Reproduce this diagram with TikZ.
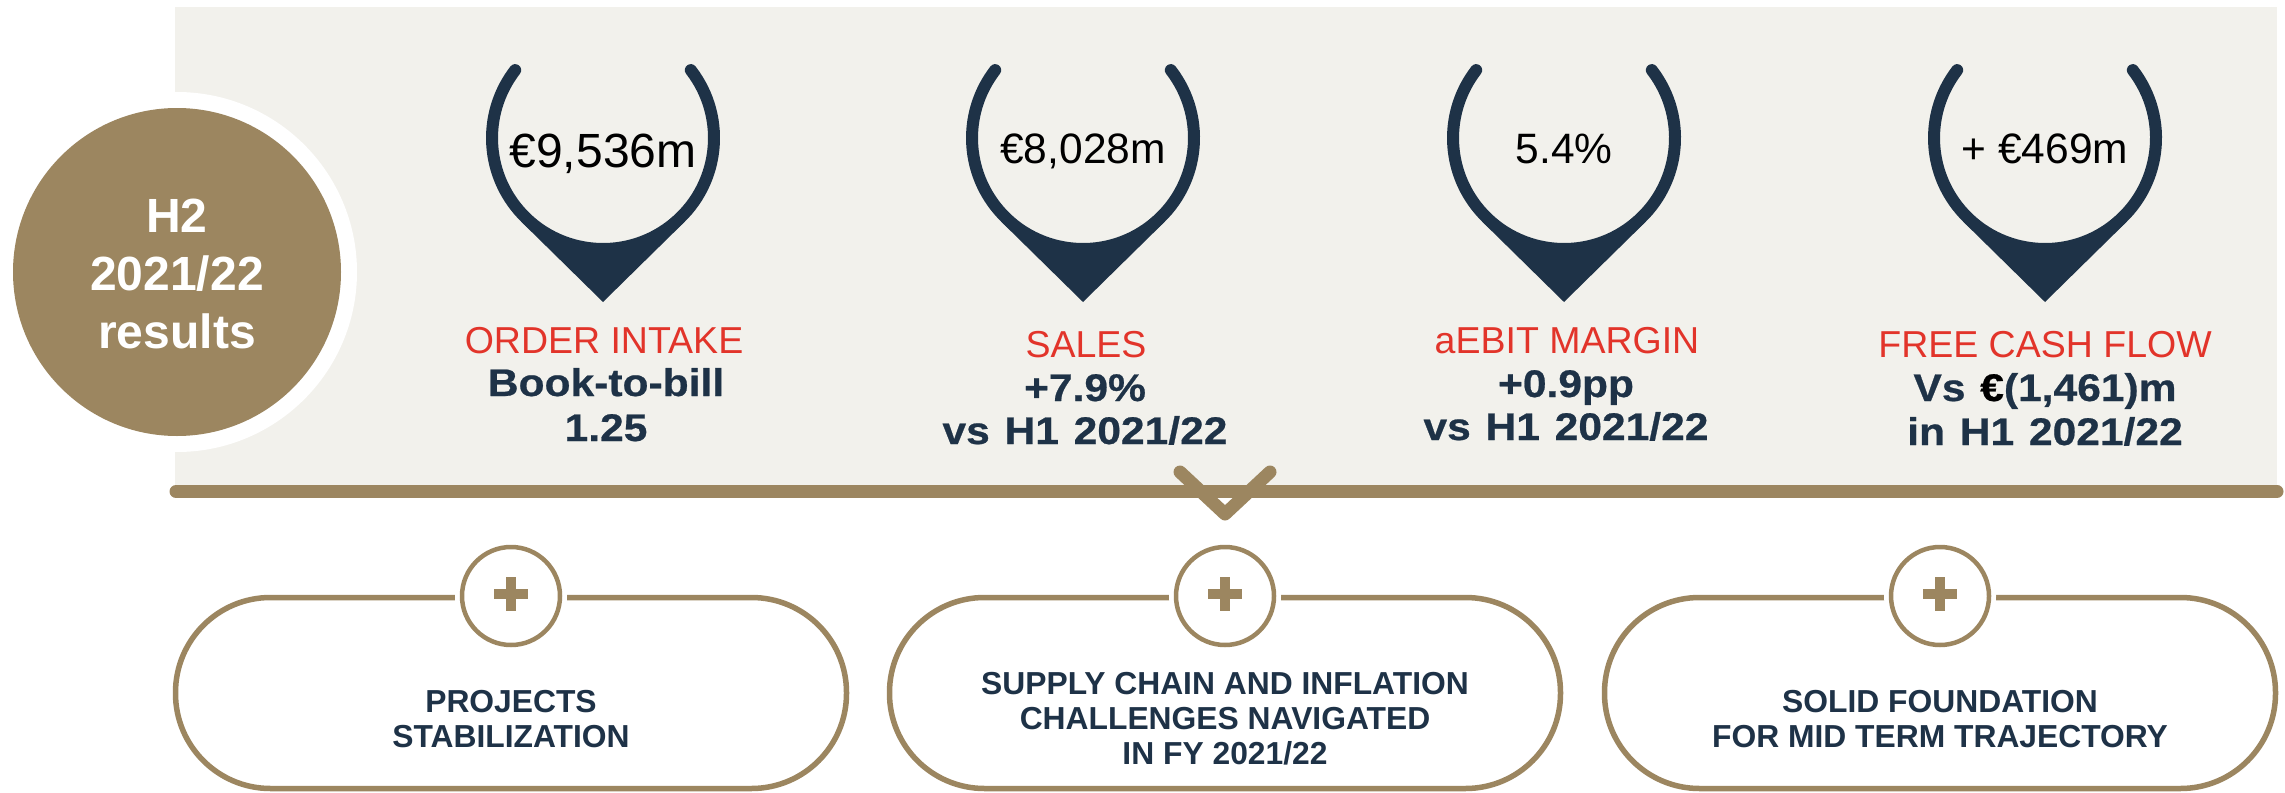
\documentclass[tikz,border=0pt]{standalone}
\usepackage{fontspec}
\setmainfont{Liberation Sans}
\newfontfamily\wideb[FakeStretch=1.105,FakeBold=0.6,WordSpace=1.25]{Liberation Sans Bold}
\definecolor{gold}{HTML}{9C8660}
\definecolor{panel}{HTML}{F2F1EC}
\definecolor{navy}{HTML}{1E3247}
\definecolor{redtxt}{HTML}{E2342A}
\newcommand{\fs}[2]{\fontsize{#1pt}{#2pt}\selectfont}
\tikzset{
  x=1pt,y=-1pt,
  valtext/.style={anchor=base,inner sep=0pt,text=black},
  headtext/.style={anchor=base,inner sep=0pt,text=redtxt,font=\fs{37.5}{40}},
  subtext/.style={anchor=base,inner sep=0pt,text=navy,font=\wideb\fs{38.5}{44}},
  pillbox/.style={draw=gold,line width=5.5pt,fill=white,minimum width=671pt,minimum height=191pt,rounded corners=95pt,inner sep=0pt},
  pilltext/.style={inner sep=0pt,align=center,text=navy,font=\bfseries\fs{31.8}{35}},
  ring/.style={circle,draw=gold,line width=4.5pt,fill=white,minimum size=98pt,inner sep=0pt},
  gapdisc/.style={circle,fill=white,minimum size=112pt,inner sep=0pt},
  htext/.style={anchor=base,inner sep=0pt,text=white,font=\bfseries\fs{48}{58}},
}
\newcommand{\pinshape}[1]{%
  \begin{scope}[shift={(#1,138)},y=1pt]
    \draw[navy,line width=12pt,line cap=round] (37.7:111) arc[start angle=37.7,end angle=-217.7,radius=111];
    \fill[navy] (0,-164) -- (-134.5:117) -- (-134.5:110) arc[start angle=-134.5,end angle=-45.5,radius=105] -- (-45.5:110) -- (-45.5:117) -- cycle;
  \end{scope}}
\newcommand{\plusmark}[1]{%
  \fill[gold] (#1-5,577) rectangle (#1+5,611);
  \fill[gold] (#1-17,589) rectangle (#1+17,599);}
\begin{document}
\begin{tikzpicture}
\useasboundingbox (0,0) rectangle (2285,792);
\fill[white] (0,0) rectangle (2285,792);
\fill[panel] (175,7) rectangle (2277,491);
\node[circle,fill=white,minimum size=360pt,inner sep=0pt] (halo) at (177,272) {};
\node[circle,fill=gold,minimum size=328pt,inner sep=0pt] (hcircle) at (177,272) {};
\node[htext] (h1) at (177,232) {H2};
\node[htext] (h2) at (177,290) {2021/22};
\node[htext] (h3) at (177,348) {results};

\pinshape{603}\pinshape{1083}\pinshape{1564}\pinshape{2045}
\node[valtext,font=\fs{48}{50}] (v1) at (603,167) {€9,536m};
\node[valtext,font=\fs{42.5}{50}] (v2) at (1083,163) {€8,028m};
\node[valtext,font=\fs{42.5}{50}] (v3) at (1564,163) {5.4\%};
\node[valtext,font=\fs{42.5}{50}] (v4) at (2045,163) {+ €469m};

\node[headtext] (a1) at (604,353) {ORDER INTAKE};
\node[subtext] (a2) at (606,396) {Book-to-bill};
\node[subtext] (a3) at (606,441) {1.25};
\node[headtext] (b1) at (1086,357) {SALES};
\node[subtext] (b2) at (1085,401) {+7.9\%};
\node[subtext] (b3) at (1085,444) {vs H1 2021/22};
\node[headtext] (c1) at (1567,353) {aEBIT MARGIN};
\node[subtext] (c2) at (1566,397) {+0.9pp};
\node[subtext] (c3) at (1566,440) {vs H1 2021/22};
\node[headtext] (d1) at (2045,357) {FREE CASH FLOW};
\node[subtext] (d2) at (2045,401) {Vs {\color{black}€}(1,461)m};
\node[subtext] (d3) at (2045,445) {in H1 2021/22};

\draw[gold,line width=13pt,line cap=round] (176,491.5) -- (2277,491.5);
\draw[gold,line width=13pt,line cap=round,line join=round] (1180,472) -- (1225,514) -- (1270,472);

\node[pillbox] (p1) at (511,693) {};
\node[pillbox] (p2) at (1225,693) {};
\node[pillbox] (p3) at (1940,693) {};
\foreach \n/\cx in {1/511,2/1225,3/1940}{
  \node[gapdisc] (g\n) at (\cx,596) {};
  \node[ring] (r\n) at (\cx,596) {};
  \plusmark{\cx}
}
\node[pilltext] (t1) at (511,719) {PROJECTS\\STABILIZATION};
\node[pilltext] (t2) at (1225,719) {SUPPLY CHAIN AND INFLATION\\CHALLENGES NAVIGATED\\IN FY 2021/22};
\node[pilltext] (t3) at (1940,719) {SOLID FOUNDATION\\FOR MID TERM TRAJECTORY};
\end{tikzpicture}
\end{document}
